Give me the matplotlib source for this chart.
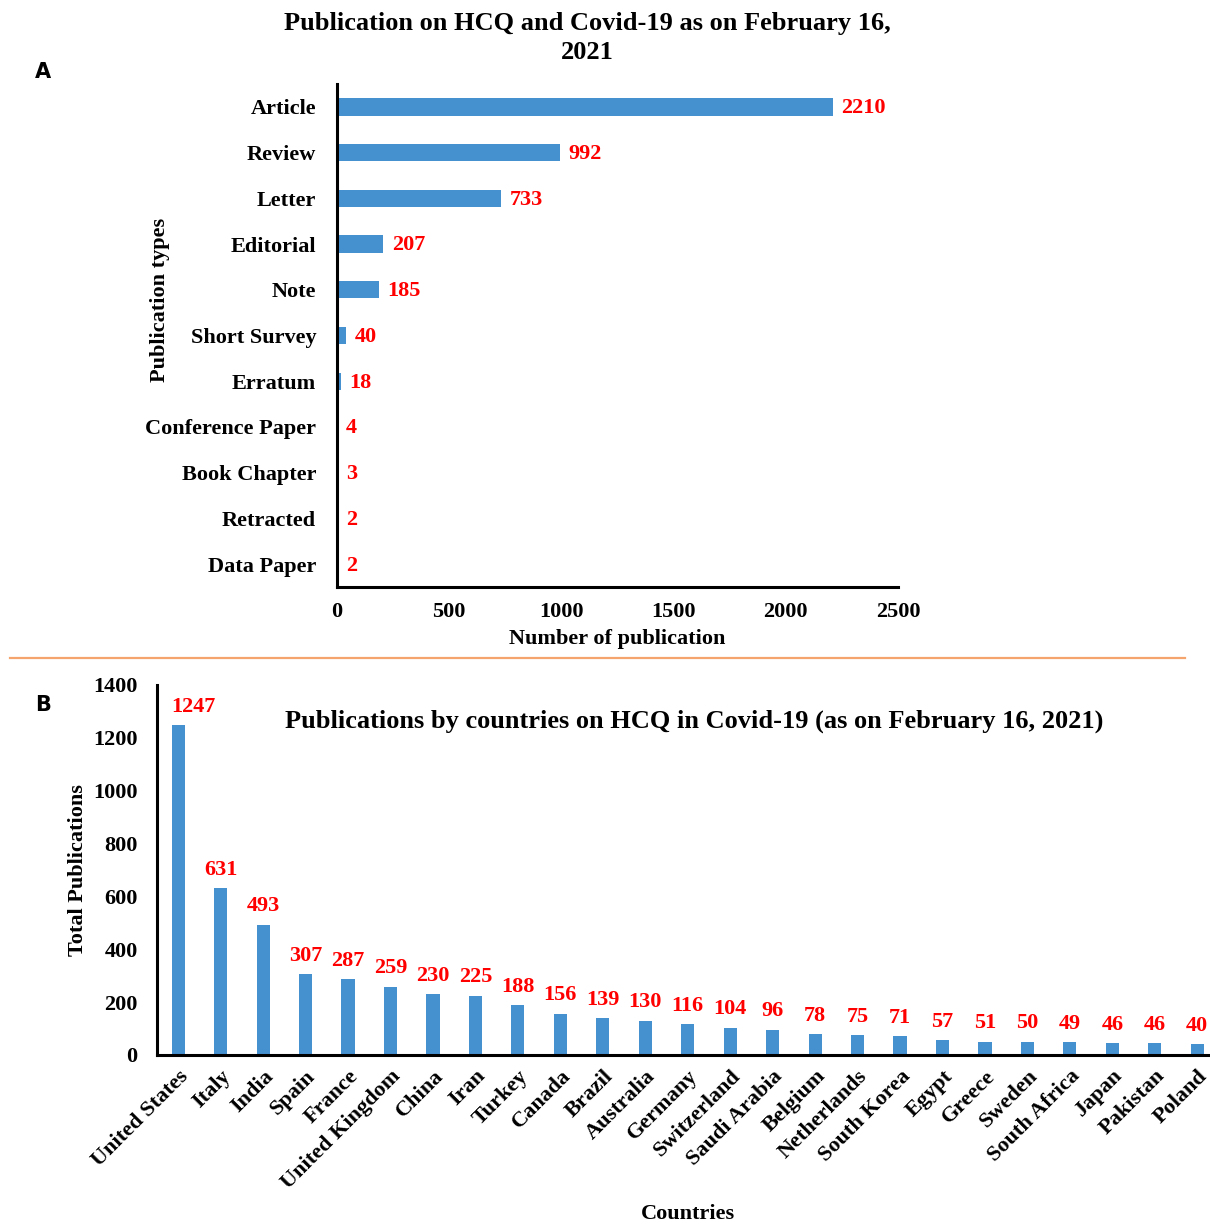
import matplotlib
matplotlib.use("Agg")
import matplotlib.pyplot as plt
from matplotlib.lines import Line2D

plt.rcParams["font.family"] = ["Liberation Serif", "DejaVu Serif"]
plt.rcParams["font.weight"] = "bold"

# publication types (panel A)
pub_types = ["Article", "Review", "Letter", "Editorial", "Note", "Short Survey",
             "Erratum", "Conference Paper", "Book Chapter", "Retracted", "Data Paper"]
pub_counts = [2210, 992, 733, 207, 185, 40, 18, 4, 3, 2, 2]

# publications by country (panel B)
countries = ["United States", "Italy", "India", "Spain", "France", "United Kingdom",
             "China", "Iran", "Turkey", "Canada", "Brazil", "Australia", "Germany",
             "Switzerland", "Saudi Arabia", "Belgium", "Netherlands", "South Korea",
             "Egypt", "Greece", "Sweden", "South Africa", "Japan", "Pakistan", "Poland"]
country_counts = [1247, 631, 493, 307, 287, 259, 230, 225, 188, 156, 139, 130, 116,
                  104, 96, 78, 75, 71, 57, 51, 50, 49, 46, 46, 40]

bar_color = "#4590cf"
W, H = 1210, 1225
fig = plt.figure(figsize=(W / 100, H / 100), dpi=100)


def px_axes(left, right, top, bottom):
    return fig.add_axes([left / W, 1 - bottom / H, (right - left) / W, (bottom - top) / H])


def style_axes(ax):
    for side in ("top", "right"):
        ax.spines[side].set_visible(False)
    for side in ("left", "bottom"):
        ax.spines[side].set_linewidth(2.2)
    ax.tick_params(length=0, labelsize=16)


# ---- panel A ----
ax1 = px_axes(337, 898, 84, 587)
style_axes(ax1)
ypos = list(range(len(pub_types)))
ax1.barh(ypos, pub_counts, height=0.38, color=bar_color)
ax1.set_ylim(len(pub_types) - 0.5, -0.5)
ax1.set_xlim(0, 2500)
ax1.set_xticks([0, 500, 1000, 1500, 2000, 2500])
ax1.set_yticks(ypos)
ax1.set_yticklabels(pub_types)
ax1.tick_params(axis="y", pad=15)
ax1.tick_params(axis="x", pad=11)
for y, v in zip(ypos, pub_counts):
    ax1.annotate(str(v), (v, y), xytext=(6, -1), textcoords="offset points",
                 ha="left", va="center", color="red", fontsize=16, fontweight="bold")
ax1.set_xlabel("Number of publication", fontsize=16, fontweight="bold", labelpad=5)
ax1.set_ylabel("Publication types", fontsize=16, fontweight="bold")
ax1.yaxis.set_label_coords(-0.298, 0.57)

fig.text(587 / W, 1 - 12 / H, "Publication on HCQ and Covid-19 as on February 16,\n2021",
         ha="center", va="top", fontsize=19, fontweight="bold", linespacing=1.35)
fig.text(43 / W, 1 - 72 / H, "A", ha="center", va="center", fontsize=15,
         fontweight="bold", family="DejaVu Sans")

# separator between panels
fig.add_artist(Line2D([10 / W, 1185 / W], [1 - 658 / H, 1 - 658 / H],
                      transform=fig.transFigure, color="#f6a46e", lw=1.6))

# ---- panel B ----
ax2 = px_axes(157, 1210, 685, 1055)
style_axes(ax2)
xpos = list(range(len(countries)))
ax2.bar(xpos, country_counts, width=0.31, color=bar_color)
ax2.set_xlim(-0.5, len(countries) - 1 + 0.3)
ax2.set_ylim(0, 1400)
ax2.set_yticks(range(0, 1401, 200))
ax2.set_xticks(xpos)
ax2.set_xticklabels(countries, rotation=45, ha="right", rotation_mode="anchor")
ax2.tick_params(axis="y", pad=14)
ax2.tick_params(axis="x", pad=8)
for x, v in zip(xpos, country_counts):
    # the tallest label sits against the y spine, nudge it right
    dx = 11 if x == 0 else 0
    ax2.annotate(str(v), (x, v), xytext=(dx, 6), textcoords="offset points",
                 ha="center", va="bottom", color="red", fontsize=16, fontweight="bold")
ax2.set_ylabel("Total Publications", fontsize=16, fontweight="bold")
ax2.yaxis.set_label_coords(-0.0655, 0.5)
ax2.set_xlabel("Countries", fontsize=16, fontweight="bold")
ax2.xaxis.set_label_coords(0.504, -0.403)
ax2.text(0.51, 0.903, "Publications by countries on HCQ in Covid-19 (as on February 16, 2021)",
         transform=ax2.transAxes, ha="center", va="center", fontsize=19, fontweight="bold")
fig.text(43 / W, 1 - 705 / H, "B", ha="center", va="center", fontsize=15,
         fontweight="bold", family="DejaVu Sans")

fig.savefig("out.png", dpi=100)
